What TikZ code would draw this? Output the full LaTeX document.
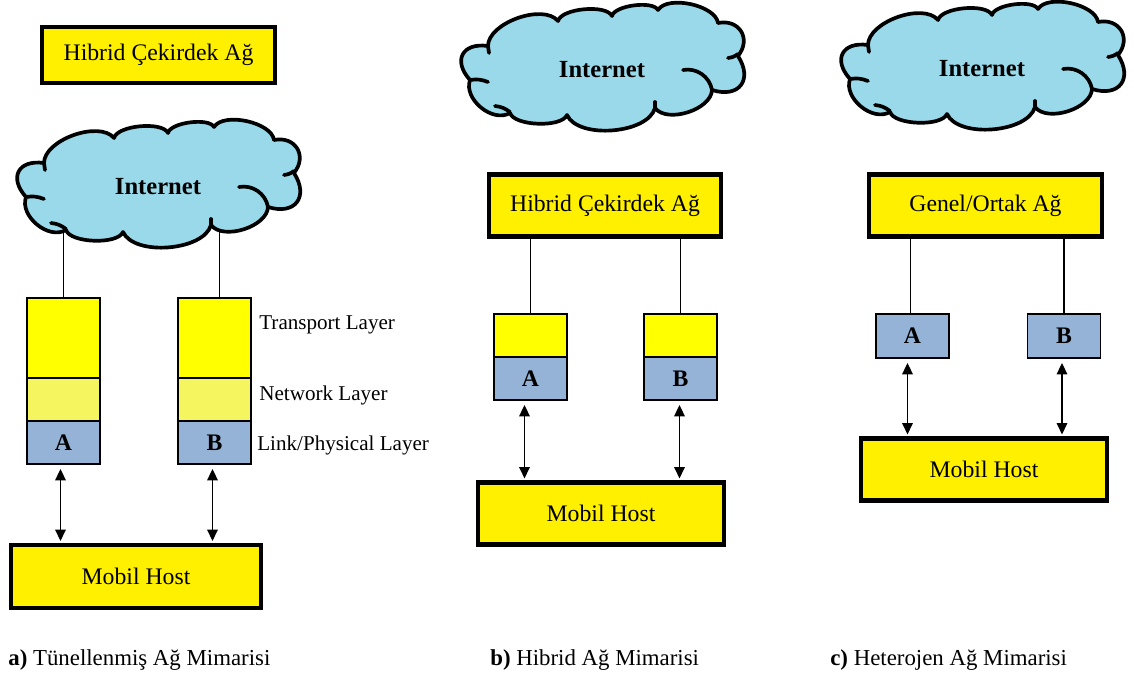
\documentclass[tikz,border=0pt]{standalone}
\usepackage{fontspec}
\setmainfont{Liberation Serif}
\usetikzlibrary{arrows.meta,backgrounds}
\definecolor{boxyellow}{RGB}{255,240,0}
\definecolor{transyellow}{RGB}{255,255,0}
\definecolor{netyellow}{RGB}{245,245,95}
\definecolor{linkblue}{RGB}{149,179,215}
\definecolor{cloudblue}{RGB}{153,217,234}
% Internet cloud: outline of puffs, inner curls, and a named text node
% #1 node name, #2 x of centre, #3 y of centre
\newcommand\inetcloud[3]{%
  \begin{scope}[shift={(#2,#3)}]
    \draw[cloudline, fill=cloudblue]
      (-114,-22) to[lobe=0.80] (-44,-47) to[lobe=0.62] (10,-52)
      to[lobe=0.60] (56,-58) to[lobe=0.75] (116,-45) to[lobe=1.45] (136,-12)
      to[lobe=1.70] (110,22) to[lobe=0.85] (53,40) to[lobe=0.78] (-35,47)
      to[lobe=0.62] (-92,45) to[lobe=1.00] (-132,12) to[lobe=1.74] cycle;
    \draw[cloudline] (81,2) to[bend left=45] (110,22);
    \draw[cloudline] (-107,38) to[bend left=15] (-92,44);
    \draw[cloudline] (-132,12) to[bend left=15] (-114,14);
    \draw[cloudline] (126,-10) to[bend right=15] (136,-14);
    \draw[cloudline] (-114,-22) -- (-113,-15);
    \draw[cloudline] (53,40) -- (53,34);
  \end{scope}
  \node[inettext] (#1) at (#2,#3+2) {Internet};
}
\begin{document}
\begin{tikzpicture}[x=0.02cm,y=-0.02cm,
  every node/.style={font=\fontsize{13.5}{15}\selectfont, inner sep=0pt},
  sz/.style 2 args={minimum width=#1*0.02cm, minimum height=#2*0.02cm},
  bigbox/.style={draw, line width=2.3pt, fill=boxyellow},
  transbox/.style={draw, line width=1.1pt, fill=transyellow},
  netbox/.style={draw, line width=1.1pt, fill=netyellow},
  linkbox/.style={draw, line width=1.1pt, fill=linkblue, font=\fontsize{13.5}{15}\selectfont\bfseries},
  cloudline/.style={line width=2.1pt, line cap=round, line join=round},
  lobe/.style={bend left=70, looseness=#1},
  inettext/.style={font=\fontsize{14}{16}\selectfont\bfseries},
  layerlabel/.style={anchor=west, font=\fontsize{12}{14}\selectfont},
  caption/.style={anchor=west, font=\fontsize{13}{15}\selectfont},
  wire/.style={line width=0.8pt},
  dar/.style={{Triangle[length=6.5pt,width=6pt]}-{Triangle[length=6.5pt,width=6pt]}, line width=0.9pt, shorten <=4*0.02cm, shorten >=2*0.02cm}]
\useasboundingbox (0,0) rectangle (1134,675);

% ---------- a) tunnelled architecture ----------
\node[bigbox, sz={233}{56}] (coreA) at (158.5,55) {Hibrid Çekirdek Ağ};
\node[transbox, sz={73}{80}] (tA) at (63.5,338) {};
\node[netbox, sz={73}{43}] (nA) at (63.5,399.5) {};
\node[linkbox, sz={73}{43}] (lA) at (63.5,442.5) {A};
\node[transbox, sz={73}{80}] (tB) at (214.5,338) {};
\node[netbox, sz={73}{43}] (nB) at (214.5,399.5) {};
\node[linkbox, sz={73}{43}] (lB) at (214.5,442.5) {B};
\inetcloud{cloudA}{158}{185}
\node[layerlabel] (lblT) at (259,325) {Transport Layer};
\node[layerlabel] (lblN) at (259,395) {Network Layer};
\node[layerlabel] (lblL) at (257,445) {Link/Physical Layer};
\node[bigbox, sz={250}{63}] (hostA) at (136,576.5) {Mobil Host};
\begin{scope}[on background layer]
  \draw[wire] (tA.north) -- (tA.north |- cloudA.center);
  \draw[wire] ([xshift=5*0.02cm]tB.north) -- ([xshift=5*0.02cm]tB.north |- cloudA.center);
\end{scope}
\draw[dar] ([xshift=-3*0.02cm]lA.south) -- ([xshift=-3*0.02cm]lA.south |- hostA.north);
\draw[dar] ([xshift=-2*0.02cm]lB.south) -- ([xshift=-2*0.02cm]lB.south |- hostA.north);
\node[caption] (capA) at (8,660) {\textbf{a)} Tünellenmiş Ağ Mimarisi};

% ---------- b) hybrid architecture ----------
\inetcloud{cloudB}{602}{68}
\node[bigbox, sz={232}{62}] (coreB) at (605,205.5) {Hibrid Çekirdek Ağ};
\node[transbox, sz={73}{43}] (tbA) at (530.5,335.5) {};
\node[linkbox, sz={73}{43}] (lbA) at (530.5,378.5) {A};
\node[transbox, sz={73}{43}] (tbB) at (680.5,335.5) {};
\node[linkbox, sz={73}{43}] (lbB) at (680.5,378.5) {B};
\node[bigbox, sz={246}{62}] (hostB) at (601,513.5) {Mobil Host};
\draw[wire] (tbA.north) -- (tbA.north |- coreB.south);
\draw[wire] (tbB.north) -- (tbB.north |- coreB.south);
\draw[dar] ([xshift=-6*0.02cm]lbA.south) -- ([xshift=-6*0.02cm]lbA.south |- hostB.north);
\draw[dar] ([xshift=-1*0.02cm]lbB.south) -- ([xshift=-1*0.02cm]lbB.south |- hostB.north);
\node[caption] (capB) at (490,660) {\textbf{b)} Hibrid Ağ Mimarisi};

% ---------- c) heterogeneous architecture ----------
\inetcloud{cloudC}{982}{67}
\node[bigbox, sz={233}{62}] (coreC) at (985.5,205.5) {Genel/Ortak Ağ};
\node[linkbox, sz={73}{44}] (cA) at (912.5,336) {A};
\node[linkbox, sz={73}{44}] (cB) at (1064,336) {B};
\node[bigbox, sz={246}{62}] (hostC) at (984,469.5) {Mobil Host};
\draw[wire] ([xshift=-2*0.02cm]cA.north) -- ([xshift=-2*0.02cm]cA.north |- coreC.south);
\draw[wire] (cB.north) -- (cB.north |- coreC.south);
\draw[dar] ([xshift=-5*0.02cm]cA.south) -- ([xshift=-5*0.02cm]cA.south |- hostC.north);
\draw[dar] ([xshift=-2*0.02cm]cB.south) -- ([xshift=-2*0.02cm]cB.south |- hostC.north);
\node[caption] (capC) at (830,660) {\textbf{c)} Heterojen Ağ Mimarisi};
\end{tikzpicture}
\end{document}
